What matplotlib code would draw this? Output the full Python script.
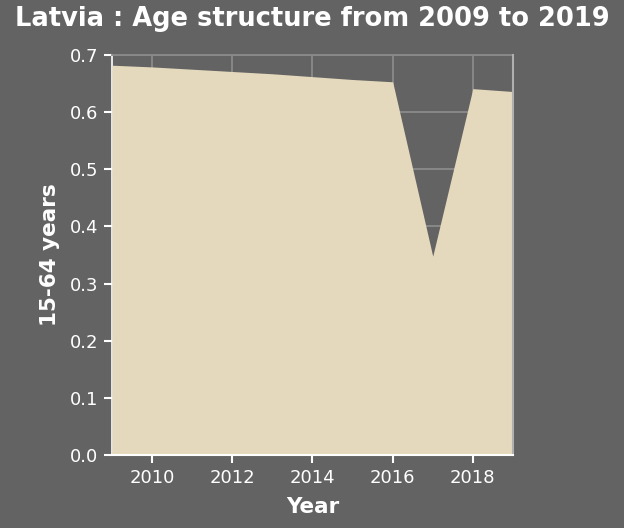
import numpy as np
import matplotlib.pyplot as plt

years = [2009, 2010, 2011, 2012, 2013, 2014, 2015, 2016, 2017, 2018, 2019]
share_15_64 = [0.682, 0.679, 0.675, 0.671, 0.667, 0.662, 0.657, 0.653, 0.348, 0.641, 0.636]

bg = "#636363"
fig = plt.figure(figsize=(6.24, 5.28), dpi=100, facecolor=bg)
ax = fig.add_axes([0.1795, 0.138, 0.6425, 0.758])
ax.set_facecolor(bg)

ax.fill_between(years, share_15_64, 0, color="#e5d9bd", linewidth=0, zorder=3)

ax.set_xlim(2009, 2019)
ax.set_ylim(0, 0.7)
ax.set_xticks([2010, 2012, 2014, 2016, 2018])
ax.set_yticks(np.arange(0, 0.71, 0.1))
ax.yaxis.set_major_formatter(plt.FuncFormatter(lambda v, p: f"{v:.1f}"))
ax.grid(True, color="#8a8a8a", linewidth=1.3, zorder=1)
ax.spines["left"].set_color("white")
ax.spines["bottom"].set_color("white")
ax.spines["left"].set_linewidth(1.2)
ax.spines["bottom"].set_linewidth(1.5)
ax.spines["bottom"].set_zorder(4)
ax.spines["top"].set_color("#8a8a8a")
ax.spines["top"].set_linewidth(1.3)
ax.spines["right"].set_color("#b0b0b0")
ax.spines["right"].set_linewidth(1.5)
ax.spines["right"].set_zorder(4)
ax.tick_params(colors="white", labelsize=13, length=6, width=1.5, pad=4)
for lbl in ax.get_xticklabels() + ax.get_yticklabels():
    lbl.set_color("white")

ax.set_xlabel("Year", color="white", fontsize=15.5, fontweight="bold", labelpad=7)
ax.set_ylabel("15-64 years", color="white", fontsize=15.5, fontweight="bold", labelpad=7)
fig.suptitle("Latvia : Age structure from 2009 to 2019", color="white",
             fontsize=18.5, fontweight="bold", y=0.988)

fig.savefig("out.png", dpi=100, facecolor=bg)
